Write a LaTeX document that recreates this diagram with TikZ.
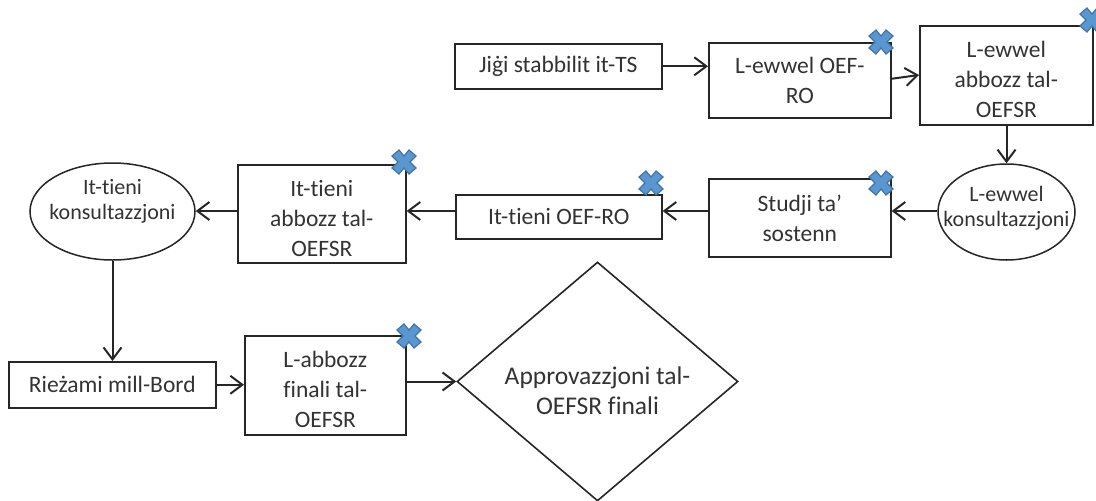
\documentclass[tikz,border=0pt]{standalone}
\usepackage{fontspec}
\setmainfont{Carlito}[Ligatures=NoCommon]
\usetikzlibrary{shapes.geometric,arrows.meta}
\definecolor{ink}{HTML}{262626}
\definecolor{txt}{HTML}{333333}
\definecolor{xfill}{HTML}{5A96D0}
\definecolor{xline}{HTML}{3F74A8}
\newcommand{\dn}{\rule{0pt}{25pt}}
\tikzset{
  x=1pt,y=-1pt,
  flowbox/.style={draw=ink,line width=1.6pt,fill=white,rectangle,inner sep=0pt,align=center,text=txt,font=\fontsize{23.5}{30}\selectfont,anchor=north west},
  flowell/.style={draw=ink,line width=1.5pt,fill=white,ellipse,inner sep=0pt},
  flowdia/.style={draw=ink,line width=1.6pt,fill=white,diamond,inner sep=0pt},
  elltext/.style={align=center,text=txt,inner sep=0pt,font=\fontsize{22}{25}\selectfont},
  diatext/.style={align=center,text=txt,inner sep=0pt,font=\fontsize{25.5}{30}\selectfont},
  conn/.style={draw=ink,line width=2pt,-{Straight Barb[length=12pt,width=18pt,line width=2pt]}},
  xmark/.pic={\path[fill=xfill,draw=xline,line width=1.2pt]
    (-5,-12)--(0,-6)--(5,-12)--(12,-6)--(6,0)--(12,6)--(5,12)--(0,6)--(-5,12)--(-12,6)--(-6,0)--(-12,-6)--cycle;}
}
\begin{document}
\begin{tikzpicture}
\clip (0,0) rectangle (1096,501);
\path[fill=white] (0,0) rectangle (1096,501);
\node[flowbox,minimum width=207pt,minimum height=45pt] (ts) at (454,43) {Jiġi stabbilit it-TS};
\node[flowbox,minimum width=182pt,minimum height=75pt] (ro1) at (708,42) {L-ewwel OEF-\\RO};
\node[flowbox,minimum width=173pt,minimum height=99pt] (sr1) at (919,25) {\dn L-ewwel\\abbozz tal-\\OEFSR};
\node[flowell,minimum width=137pt,minimum height=96pt,label={[elltext,yshift=4pt]center:L-ewwel\\konsultazzjoni}] (k1) at (1006.5,212) {};
\node[flowbox,minimum width=182pt,minimum height=78pt] (st) at (708,178) {Studji ta’\\sostenn};
\node[flowbox,minimum width=206pt,minimum height=44pt] (ro2) at (455,194) {It-tieni OEF-RO};
\node[flowbox,minimum width=168pt,minimum height=98pt] (sr2) at (237,164) {\dn It-tieni\\abbozz tal-\\OEFSR};
\node[flowell,minimum width=165pt,minimum height=97pt,label={[elltext,yshift=10pt]center:It-tieni\\konsultazzjoni}] (k2) at (112.5,211.5) {};
\node[flowbox,minimum width=207pt,minimum height=46pt] (bd) at (8,361) {Rieżami mill-Bord};
\node[flowbox,minimum width=161pt,minimum height=99pt] (fin) at (244,335) {\dn L-abbozz\\finali tal-\\OEFSR};
\node[flowdia,minimum width=281pt,minimum height=239pt,label={[diatext,yshift=-9pt]center:Approvazzjoni tal-\\OEFSR finali}] (ap) at (597.5,381.5) {};
\coordinate (rowa) at (0,211);
\coordinate (ro1out) at (890,79);
\coordinate (sr1in) at (919,75);
\draw[conn] (ts.east) -- (ro1.west |- ts.east);
\draw[conn] (ro1out) -- (sr1in);
\draw[conn] (sr1.south -| k1.north) -- (k1.north);
\draw[conn] (k1.west |- rowa) -- (st.east |- rowa);
\draw[conn] (st.west |- rowa) -- (ro2.east |- rowa);
\draw[conn] (ro2.west |- rowa) -- (sr2.east |- rowa);
\draw[conn] (sr2.west |- rowa) -- (k2.east |- rowa);
\draw[conn] (k2.south) -- (k2.south |- bd.north);
\draw[conn] (bd.east) -- (fin.west |- bd.east);
\draw[conn] (fin.east |- ap.west) -- (ap.west);
\pic at (881,42) {xmark};
\pic at (1092,20) {xmark};
\pic at (404,162) {xmark};
\pic at (651,183) {xmark};
\pic at (881,183) {xmark};
\pic at (409,336) {xmark};
\end{tikzpicture}
\end{document}
